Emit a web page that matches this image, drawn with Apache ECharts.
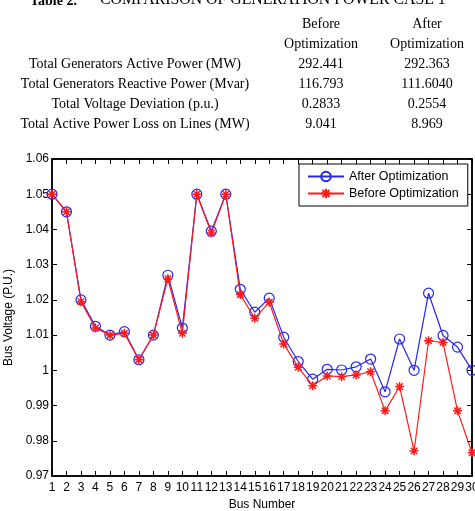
<!DOCTYPE html>
<html>
<head>
<meta charset="utf-8">
<script src="https://cdn.jsdelivr.net/npm/echarts@6/dist/echarts.min.js"></script>
<style>
html,body{margin:0;padding:0;background:#fff;}
#c{width:475px;height:511px;}
</style>
</head>
<body>
<div id="c"></div>
<script>
// ---- data ----
const busNumbers = [1,2,3,4,5,6,7,8,9,10,11,12,13,14,15,16,17,18,19,20,21,22,23,24,25,26,27,28,29,30];
const afterOpt = [1.050,1.045,1.020,1.0125,1.010,1.011,1.003,1.010,1.027,1.012,1.050,1.0395,1.050,1.023,1.0165,1.0205,1.0094,1.0025,0.9975,1.0003,1.0001,1.001,1.0032,0.9939,1.0089,1.0000,1.0219,1.0099,1.0066,1.0000];
const beforeOpt = [1.050,1.045,1.0195,1.012,1.010,1.0105,1.003,1.010,1.026,1.0105,1.050,1.039,1.050,1.0215,1.0148,1.0193,1.0075,1.0009,0.9956,0.9984,0.9982,0.9987,0.9996,0.9885,0.9954,0.9771,1.0084,1.0079,0.9885,0.9766];
const yTicks = [0.97,0.98,0.99,1.00,1.01,1.02,1.03,1.04,1.05,1.06];
const tableHeader = ['Before','Optimization','After','Optimization'];
const tableRows = ['Total Generators Active Power (MW)','Total Generators Reactive Power (Mvar)','Total Voltage Deviation (p.u.)','Total Active Power Loss on Lines (MW)'];
const tableBefore = ['292.441','116.793','0.2833','9.041'];
const tableAfter = ['292.363','111.6040','0.2554','8.969'];
const tableTitleA = 'Table 2.';
const tableTitleB = 'COMPARISON OF GENERATION POWER CASE 1';

const serif = '"Liberation Serif","Times New Roman",serif';
const sans = '"Liberation Sans",Arial,sans-serif';

const graphics = [];
graphics.push({type:'text', x:30, y:8, style:{text:tableTitleA, font:'bold 14px '+serif, fill:'#000', textVerticalAlign:'bottom'}});
graphics.push({type:'text', x:100, y:8, style:{text:tableTitleB, font:'15.8px '+serif, fill:'#000', textVerticalAlign:'bottom'}});
const colX = [135, 321, 427];
function ctext(x, y, t){
  graphics.push({type:'text', x:x, y:y, style:{text:t, font:'14px '+serif, fill:'#000', textAlign:'center', textVerticalAlign:'middle'}});
}
ctext(colX[1], 24, tableHeader[0]); ctext(colX[1], 44, tableHeader[1]);
ctext(colX[2], 24, tableHeader[2]); ctext(colX[2], 44, tableHeader[3]);
tableRows.forEach((r,i)=>{
  const y = 64 + i*20;
  ctext(colX[0], y, r); ctext(colX[1], y, tableBefore[i]); ctext(colX[2], y, tableAfter[i]);
});

const asterisk = 'path://M0,-5 L0,5 M-5,0 L5,0 M-3.6,-3.6 L3.6,3.6 M-3.6,3.6 L3.6,-3.6';

const chart = echarts.init(document.getElementById('c'), null, {renderer:'canvas'});
chart.setOption({
  animation:false,
  backgroundColor:'#fff',
  graphic: graphics,
  grid:{left:52, right:3, top:159, bottom:35, show:true, borderColor:'#000', borderWidth:1.5, backgroundColor:'#fff',
        outerBoundsMode:'none', containLabel:false},
  legend:{
    data:['After Optimization','Before Optimization'],
    orient:'vertical', left:299, top:164,
    backgroundColor:'#fff', borderColor:'#000', borderWidth:1,
    padding:[6,9,6,8], itemGap:4, itemWidth:36, itemHeight:12,
    textStyle:{fontFamily:sans, fontSize:12.5, color:'#000'}
  },
  xAxis:[{
    type:'value', min:1, max:30, interval:1,
    name:'Bus Number', nameLocation:'middle', nameGap:23,
    nameTextStyle:{fontFamily:sans, fontSize:12, color:'#000'},
    axisLine:{show:true, lineStyle:{color:'#000', width:1.5}},
    axisTick:{inside:true, length:5, lineStyle:{color:'#000'}},
    axisLabel:{fontFamily:sans, fontSize:12, color:'#000', margin:6, showMinLabel:true, showMaxLabel:true},
    splitLine:{show:false}
  },{
    type:'value', min:1, max:30, interval:1, position:'top',
    axisLine:{show:true, lineStyle:{color:'#000', width:1.5}},
    axisTick:{inside:true, length:5, lineStyle:{color:'#000'}},
    axisLabel:{show:false}, splitLine:{show:false}
  }],
  yAxis:[{
    type:'value', min:0.97, max:1.06, interval:0.01,
    name:'Bus Voltage (P.U.)', nameLocation:'middle', nameGap:35, nameRotate:90,
    nameTextStyle:{fontFamily:sans, fontSize:12, color:'#000'},
    axisLine:{show:true, lineStyle:{color:'#000', width:1.5}},
    axisTick:{inside:true, length:5, lineStyle:{color:'#000'}},
    axisLabel:{fontFamily:sans, fontSize:12, color:'#000', margin:3,
      formatter:v=>String(+(+v).toFixed(2))},
    splitLine:{show:false}
  },{
    type:'value', min:0.97, max:1.06, interval:0.01, position:'right',
    axisLine:{show:true, lineStyle:{color:'#000', width:1.5}},
    axisTick:{inside:true, length:5, lineStyle:{color:'#000'}},
    axisLabel:{show:false}, splitLine:{show:false}
  }],
  series:[{
    name:'After Optimization', type:'line', z:2,
    data: busNumbers.map((b,i)=>[b, afterOpt[i]]),
    symbol:'circle', symbolSize:10, showAllSymbol:true,
    lineStyle:{color:'#2626f0', width:1.2},
    itemStyle:{color:'rgba(0,0,0,0)', borderColor:'#2626f0', borderWidth:1.2},
    emphasis:{disabled:true}
  },{
    name:'Before Optimization', type:'line', z:3,
    data: busNumbers.map((b,i)=>[b, beforeOpt[i]]),
    symbol:asterisk, symbolSize:9, showAllSymbol:true,
    lineStyle:{color:'#ff1a1a', width:1.2},
    itemStyle:{color:'#ff1a1a', borderColor:'#ff1a1a', borderWidth:1.5},
    emphasis:{disabled:true}
  }]
});
</script>
</body>
</html>
